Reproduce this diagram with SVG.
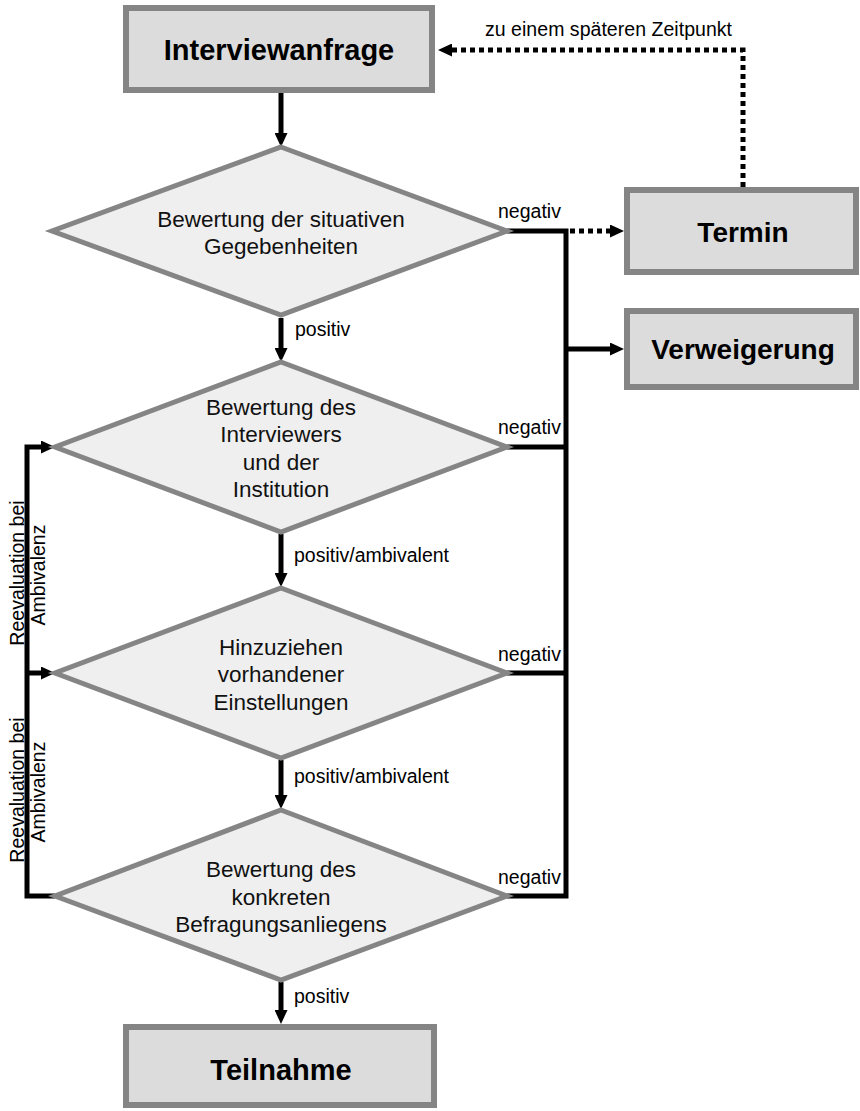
<svg xmlns="http://www.w3.org/2000/svg" width="860" height="1111" viewBox="0 0 860 1111">
<style>
.box{fill:#dcdcdc;stroke:#858585;stroke-width:6}
.dia{fill:#efefef;stroke:#858585;stroke-width:5;stroke-linejoin:miter}
.bt{font-family:"Liberation Sans",Arial,sans-serif;font-weight:bold;fill:#000;text-anchor:middle}
.dt{font-family:"Liberation Sans",Arial,sans-serif;font-size:22.5px;fill:#111;text-anchor:middle}
.lb{font-family:"Liberation Sans",Arial,sans-serif;font-size:19.5px;fill:#000}
.c{fill:none;stroke:#000;stroke-width:5}
.d{fill:none;stroke:#000;stroke-width:5;stroke-dasharray:5 4}
</style>
<defs>
<marker id="ah" viewBox="0 0 14 13" refX="4" refY="6.5" markerWidth="14" markerHeight="13" markerUnits="userSpaceOnUse" orient="auto">
<path d="M0,0 L14,6.5 L0,13 Z" fill="#000"/>
</marker>
</defs>
<rect width="860" height="1111" fill="#fff"/>

<g id="connectors">
<path class="c" d="M281,93 V137" marker-end="url(#ah)"/>
<path class="c" d="M281,318 V352" marker-end="url(#ah)"/>
<path class="c" d="M281,534 V577" marker-end="url(#ah)"/>
<path class="c" d="M281,760 V799" marker-end="url(#ah)"/>
<path class="c" d="M281,982 V1014" marker-end="url(#ah)"/>
<path class="c" d="M507,231 H566 V896 H507"/>
<path class="c" d="M507,447 H566"/>
<path class="c" d="M507,673 H566"/>
<path class="c" d="M566,349 H614" marker-end="url(#ah)"/>
<path class="d" d="M570,231 H614" marker-end="url(#ah)"/>
<path class="d" d="M743,187 V50 H448" marker-end="url(#ah)"/>
<path class="c" d="M55,896 H27 V447 H45" marker-end="url(#ah)"/>
<path class="c" d="M27,673 H45" marker-end="url(#ah)"/>
</g>

<g id="interviewanfrage">
<rect class="box" x="126" y="8" width="306" height="82"/>
<text class="bt" x="279" y="60" font-size="29">Interviewanfrage</text>
</g>

<g id="d1">
<polygon class="dia" points="281,147 507,231 281,315 52,231"/>
<text class="dt" x="281" y="227">Bewertung der situativen</text>
<text class="dt" x="281" y="254">Gegebenheiten</text>
</g>

<g id="d2">
<polygon class="dia" points="281,362 507,447 281,532 55,447"/>
<text class="dt" x="281" y="415">Bewertung des</text>
<text class="dt" x="281" y="442">Interviewers</text>
<text class="dt" x="281" y="470">und der</text>
<text class="dt" x="281" y="497">Institution</text>
</g>

<g id="d3">
<polygon class="dia" points="281,588 507,673 281,758 55,673"/>
<text class="dt" x="281" y="655">Hinzuziehen</text>
<text class="dt" x="281" y="682">vorhandener</text>
<text class="dt" x="281" y="710">Einstellungen</text>
</g>

<g id="d4">
<polygon class="dia" points="281,810 507,896 281,980 55,896"/>
<text class="dt" x="281" y="877">Bewertung des</text>
<text class="dt" x="281" y="905">konkreten</text>
<text class="dt" x="281" y="932">Befragungsanliegens</text>
</g>

<g id="termin">
<rect class="box" x="627" y="190" width="229" height="82"/>
<text class="bt" x="743" y="242" font-size="28">Termin</text>
</g>

<g id="verweigerung">
<rect class="box" x="627" y="311" width="229" height="76"/>
<text class="bt" x="743" y="359" font-size="28">Verweigerung</text>
</g>

<g id="teilnahme">
<rect class="box" x="126" y="1027" width="308" height="78"/>
<text class="bt" x="281" y="1080" font-size="29">Teilnahme</text>
</g>

<g id="labels">
<text class="lb" x="485" y="36" textLength="247" lengthAdjust="spacing">zu einem späteren Zeitpunkt</text>
<text class="lb" x="498" y="218">negativ</text>
<text class="lb" x="498" y="434">negativ</text>
<text class="lb" x="498" y="661">negativ</text>
<text class="lb" x="498" y="884">negativ</text>
<text class="lb" x="295" y="336">positiv</text>
<text class="lb" x="294" y="562">positiv/ambivalent</text>
<text class="lb" x="294" y="783">positiv/ambivalent</text>
<text class="lb" x="294" y="1003">positiv</text>
<text class="lb" transform="translate(24,573) rotate(-90)" text-anchor="middle" font-size="22">Reevaluation bei</text>
<text class="lb" transform="translate(45,575) rotate(-90)" text-anchor="middle" font-size="22">Ambivalenz</text>
<text class="lb" transform="translate(24,790) rotate(-90)" text-anchor="middle" font-size="22">Reevaluation bei</text>
<text class="lb" transform="translate(45,792) rotate(-90)" text-anchor="middle" font-size="22">Ambivalenz</text>
</g>
</svg>
